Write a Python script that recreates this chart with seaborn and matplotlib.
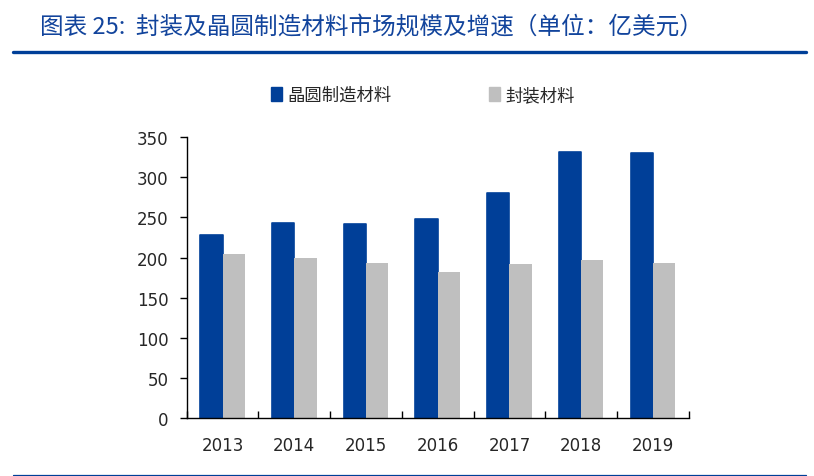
import numpy as np
import pandas as pd
import matplotlib
matplotlib.use("Agg")
import matplotlib.pyplot as plt
from matplotlib.lines import Line2D
from matplotlib.patches import Patch
import seaborn as sns

# ---- data ----
years = ["2013", "2014", "2015", "2016", "2017", "2018", "2019"]
wafer_materials = [228, 243, 242, 248, 280, 331, 330]      # 晶圆制造材料
packaging_materials = [204, 199, 193, 182, 192, 197, 193]  # 封装材料
series_names = ["晶圆制造材料", "封装材料"]
title_text = "图表 25:  封装及晶圆制造材料市场规模及增速（单位：亿美元）"
y_ticks = [0, 50, 100, 150, 200, 250, 300, 350]

BLUE = "#003F98"
GRAY = "#BFBFBF"
TITLE_BLUE = "#12449C"

sns.set_theme(style="white")
plt.rcParams["font.family"] = ["DejaVu Sans", "Noto Sans CJK SC"]

df = pd.DataFrame({
    "year": years * 2,
    "value": wafer_materials + packaging_materials,
    "series": [series_names[0]] * len(years) + [series_names[1]] * len(years),
})

fig = plt.figure(figsize=(8.14, 4.77), dpi=100)
ax = fig.add_axes([0.2294, 0.121, 0.6167, 0.5897])

sns.barplot(data=df, x="year", y="value", hue="series", order=years,
            hue_order=series_names, palette=[BLUE, GRAY], width=0.62,
            gap=0, saturation=1, ax=ax, legend=True)

for bar in ax.containers[0]:
    bar.set_edgecolor(BLUE)
    bar.set_linewidth(1.2)
    bar.set_joinstyle("round")
for bar in ax.containers[1]:
    bar.set_linewidth(0)

ax.set_xlim(-0.5, len(years) - 0.5)
ax.set_ylim(0, 350)
ax.set_yticks(y_ticks)
ax.set_xlabel("")
ax.set_ylabel("")
ax.grid(False)

for s in ["top", "right"]:
    ax.spines[s].set_visible(False)
for s in ["left", "bottom"]:
    ax.spines[s].set_color("black")
    ax.spines[s].set_linewidth(1.0)

ax.tick_params(axis="y", direction="out", length=5, width=1, color="black",
               pad=8, labelsize=12, labelcolor="#262626", left=True)
ax.tick_params(axis="x", which="major", length=0, pad=13, labelsize=12,
               labelcolor="#262626")
ax.set_xticks(np.arange(-0.5, len(years), 1.0), minor=True)
ax.tick_params(axis="x", which="minor", direction="in", length=5, width=1,
               color="black", bottom=True)

# legend
ax.legend_.remove()
handles = [Patch(facecolor=BLUE, edgecolor=BLUE), Patch(facecolor=GRAY, edgecolor=GRAY)]
fig.legend(handles, series_names, loc="center", bbox_to_anchor=(0.52, 0.799),
           ncol=2, frameon=False, handlelength=0.6,
           handleheight=0.9, handletextpad=0.35, columnspacing=5.6,
           prop={"family": ["Noto Sans CJK SC", "DejaVu Sans"], "size": 12.5})

# title and rules
fig.text(40 / 814, 1 - 27 / 477, title_text, color=TITLE_BLUE, fontsize=17,
         style="italic", va="center", ha="left",
         family=["Noto Sans CJK SC", "DejaVu Sans"])
fig.add_artist(Line2D([13 / 814, 806 / 814], [1 - 53 / 477, 1 - 53 / 477],
                      color=BLUE, linewidth=2.4, transform=fig.transFigure))
fig.add_artist(Line2D([13 / 814, 806 / 814], [1 - 475.5 / 477, 1 - 475.5 / 477],
                      color=BLUE, linewidth=0.9, transform=fig.transFigure))

fig.savefig("out.png", dpi=100)
